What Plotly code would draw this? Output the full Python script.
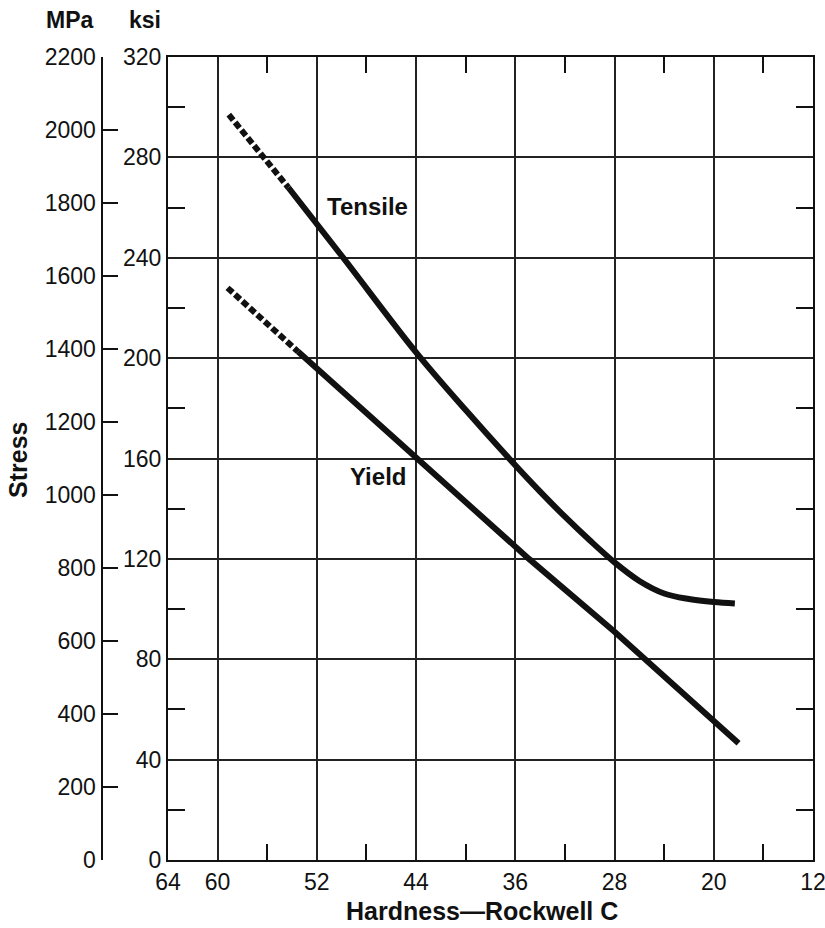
import plotly.graph_objects as go

# ---- data ----
# Hardness (Rockwell C) and stress (ksi)
tensile_dash_h = [59.1, 54.3]
tensile_dash_ksi = [297, 268]
tensile_h = [54.3, 50, 44, 40, 36.5, 34, 32, 30, 28, 26, 24, 22, 20, 18.3]
tensile_ksi = [268, 240.8, 202.3, 179.3, 160, 146.8, 136.8, 127.4, 118.6, 111.2, 106.2, 104, 102.8, 102.2]

yield_dash_h = [59.2, 53.5]
yield_dash_ksi = [228, 202.5]
yield_h = [53.5, 44, 34.9, 28, 20, 18]
yield_ksi = [202.5, 160, 120, 91, 55, 46.5]

x_tickvals = [64, 60, 52, 44, 36, 28, 20, 12]
x_minor = [56, 48, 40, 32, 24, 16]
ksi_ticks = [0, 40, 80, 120, 160, 200, 240, 280, 320]
ksi_minor = [20, 60, 100, 140, 180, 220, 260, 300]
mpa_ticks = list(range(0, 2201, 200))

FONT = "Liberation Sans, Arial, Helvetica, sans-serif"
INK = "#111111"

fig = go.Figure()
line_w = 6
dash_style = "7px,3px"
fig.add_trace(go.Scatter(x=tensile_dash_h, y=tensile_dash_ksi, mode="lines",
                         line=dict(color=INK, width=line_w, dash=dash_style), hoverinfo="skip", showlegend=False))
fig.add_trace(go.Scatter(x=tensile_h, y=tensile_ksi, mode="lines",
                         line=dict(color=INK, width=line_w, shape="spline", smoothing=1.0),
                         hoverinfo="skip", showlegend=False))
fig.add_trace(go.Scatter(x=yield_dash_h, y=yield_dash_ksi, mode="lines",
                         line=dict(color=INK, width=line_w, dash=dash_style), hoverinfo="skip", showlegend=False))
fig.add_trace(go.Scatter(x=yield_h, y=yield_ksi, mode="lines",
                         line=dict(color=INK, width=line_w), hoverinfo="skip", showlegend=False))
# invisible trace to carry the MPa axis
fig.add_trace(go.Scatter(x=[40], y=[1000], yaxis="y2", mode="markers", marker=dict(opacity=0),
                         hoverinfo="skip", showlegend=False))

W, H = 825, 928
ml, mr, mt, mb = 20, 12, 57, 68   # plot: x 168..813, y 57..860
pw = W - ml - mr
ph = H - mt - mb
left_px = 168
mpa_px = 101.5

def px_x(p):
    return (p - ml) / pw

def px_y(p):
    return (H - mb - p) / ph

fig.update_layout(
    width=W, height=H,
    margin=dict(l=ml, r=mr, t=mt, b=mb, autoexpand=False),
    paper_bgcolor="white", plot_bgcolor="white",
    font=dict(family=FONT, color=INK, size=23),
    xaxis=dict(
        domain=[px_x(left_px), 1.0],
        range=[64, 12], autorange=False,
        tickvals=x_tickvals, ticktext=[str(v) for v in x_tickvals],
        ticks="", showgrid=True, gridcolor="#222222", gridwidth=1.6,
        showline=True, linecolor=INK, linewidth=2, mirror="allticks",
        zeroline=False, ticklabeloverflow="allow",
        minor=dict(tickvals=x_minor, ticks="inside", ticklen=16, tickwidth=2, tickcolor=INK, showgrid=False),
        tickfont=dict(size=23, family=FONT),
    ),
    yaxis=dict(
        range=[0, 320], autorange=False,
        tickvals=ksi_ticks, ticktext=[str(v) for v in ksi_ticks],
        ticks="", showgrid=True, gridcolor="#222222", gridwidth=1.6,
        showline=True, linecolor=INK, linewidth=2, mirror="allticks",
        zeroline=False, ticklabeloverflow="allow",
        minor=dict(tickvals=ksi_minor, ticks="inside", ticklen=17, tickwidth=2, tickcolor=INK, showgrid=False),
        tickfont=dict(size=23, family=FONT),
    ),
    yaxis2=dict(
        overlaying="y", anchor="free", position=px_x(mpa_px), side="left",
        range=[0, 2200], autorange=False,
        tickvals=mpa_ticks, ticktext=[str(v) for v in mpa_ticks],
        ticks="inside", ticklen=15, tickwidth=2, tickcolor=INK,
        showgrid=False, zeroline=False, ticklabeloverflow="allow",
        showline=True, linecolor=INK, linewidth=2,
        tickfont=dict(size=23, family=FONT),
    ),
    annotations=[
        dict(text="<b>Tensile</b>", x=47.9, y=260.5, xref="x", yref="y",
             showarrow=False, font=dict(size=24, family=FONT, color=INK)),
        dict(text="<b>Yield</b>", x=47.05, y=153, xref="x", yref="y",
             showarrow=False, font=dict(size=24, family=FONT, color=INK)),
        dict(text="<b>MPa</b>", x=px_x(96), y=px_y(20), xref="paper", yref="paper",
             xanchor="right", yanchor="middle", showarrow=False, font=dict(size=23, family=FONT, color=INK)),
        dict(text="<b>ksi</b>", x=px_x(163), y=px_y(20), xref="paper", yref="paper",
             xanchor="right", yanchor="middle", showarrow=False, font=dict(size=23, family=FONT, color=INK)),
        dict(text="<b>Stress</b>", x=px_x(18), y=px_y(460), xref="paper", yref="paper",
             xanchor="center", yanchor="middle", textangle=-90, showarrow=False,
             font=dict(size=25, family=FONT, color=INK)),
        dict(text="<b>Hardness—Rockwell C</b>", x=px_x(482), y=px_y(911), xref="paper", yref="paper",
             xanchor="center", yanchor="middle", showarrow=False, font=dict(size=25, family=FONT, color=INK)),
    ],
)

# remove the default 8px page margin so the 825x928 figure fills the window exactly
fig.write_html(
    "out.html",
    config={"displayModeBar": False},
    post_script="document.body.style.margin='0';document.documentElement.style.overflow='hidden';document.body.style.overflow='hidden';",
)
